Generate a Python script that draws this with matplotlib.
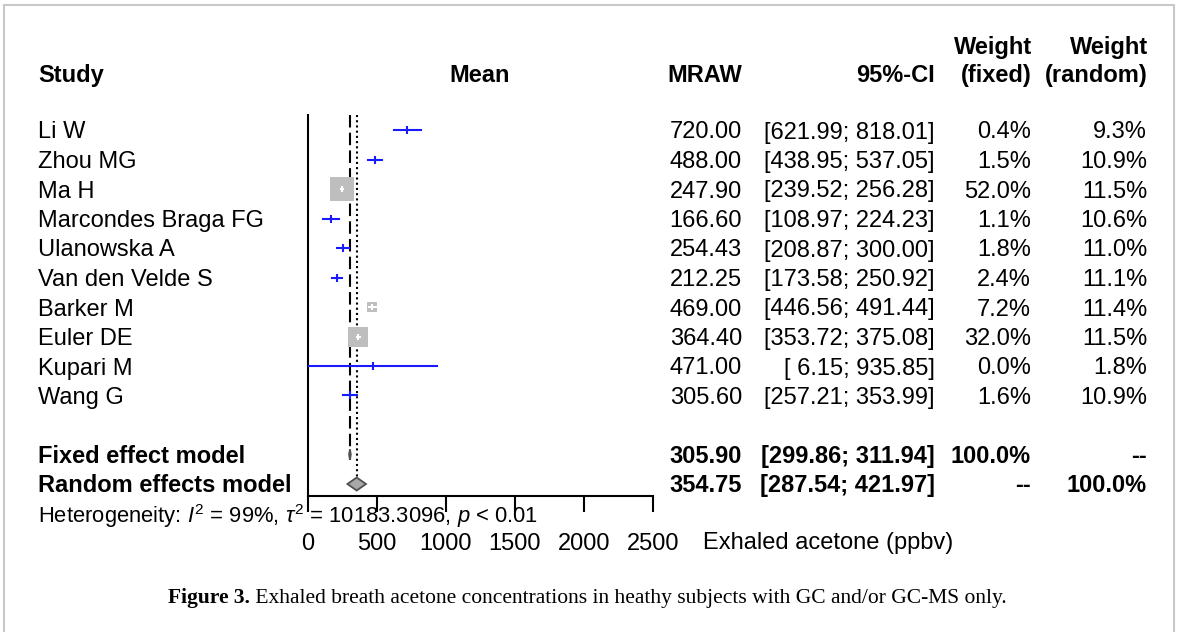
import matplotlib
matplotlib.use("Agg")
import matplotlib.pyplot as plt
from matplotlib.patches import Polygon, Rectangle
from matplotlib.transforms import blended_transform_factory

# 데이터
studies = ["Li W", "Zhou MG", "Ma H", "Marcondes Braga FG", "Ulanowska A",
           "Van den Velde S", "Barker M", "Euler DE", "Kupari M", "Wang G"]
mean = [720.00, 488.00, 247.90, 166.60, 254.43, 212.25, 469.00, 364.40, 471.00, 305.60]
lower = [621.99, 438.95, 239.52, 108.97, 208.87, 173.58, 446.56, 353.72, 6.15, 257.21]
upper = [818.01, 537.05, 256.28, 224.23, 300.00, 250.92, 491.44, 375.08, 935.85, 353.99]
w_fixed = [0.4, 1.5, 52.0, 1.1, 1.8, 2.4, 7.2, 32.0, 0.0, 1.6]
w_random = [9.3, 10.9, 11.5, 10.6, 11.0, 11.1, 11.4, 11.5, 1.8, 10.9]

fixed_est = [305.90, 299.86, 311.94]
random_est = [354.75, 287.54, 421.97]
xticks = [0, 500, 1000, 1500, 2000, 2500]

W, H = 1178, 632
plt.rcParams['font.family'] = ['Liberation Sans', 'DejaVu Sans']
plt.rcParams['mathtext.fontset'] = 'custom'
plt.rcParams['mathtext.rm'] = 'Liberation Sans'
plt.rcParams['mathtext.it'] = 'Liberation Sans:italic'

fig = plt.figure(figsize=(W / 100, H / 100), dpi=100)

# 플롯 영역 (픽셀 기준)
x0, x1 = 307.7, 653.0
ytop, ybot = 115, 496
row0, rowstep = 130, 29.5
ax = fig.add_axes([x0 / W, 1 - ybot / H, (x1 - x0) / W, (ybot - ytop) / H])
ax.set_xlim(0, 2500)
ax.set_ylim((ybot - row0) / rowstep, (ytop - row0) / rowstep)
for s in ['top', 'right']:
    ax.spines[s].set_visible(False)
ax.spines['left'].set_linewidth(1.5)
ax.spines['bottom'].set_linewidth(1.5)
ax.set_yticks([])
ax.set_xticks(xticks)
ax.tick_params(axis='x', direction='out', length=11.5, width=1.5, labelsize=17, pad=15.5)
ax.patch.set_visible(False)

fsize = 17
blue = '#1a1aff'
grey = '#bebebe'

# 고정/랜덤 효과 기준선
ax.plot([fixed_est[0]] * 2, [-0.52, 11.2], color='black', lw=1.5, ls=(0, (6, 2.5)), clip_on=False)
ax.plot([random_est[0]] * 2, [-0.52, 11.75], color='black', lw=1.5, ls=(0, (1, 1.5)), clip_on=False)

# 개별 연구 (사각형 크기는 고정효과 가중치에 비례)
for i in range(len(studies)):
    side = 23 * (w_fixed[i] / 52.0) ** 0.4
    ci_px = (upper[i] - lower[i]) * (x1 - x0) / 2500
    col = 'white' if ci_px < side else blue
    if col == 'white':
        ax.plot(mean[i], i, marker='s', ms=side * 0.75, color=grey, mew=0, zorder=3)
    ax.plot([lower[i], upper[i]], [i, i], color=col, lw=1.5, zorder=4, clip_on=False)
    ax.plot(mean[i], i, marker='|', ms=6 if col == blue else 4, mew=1.5, color=col, zorder=4)

# 다이아몬드
def diamond(est, row, h):
    m, lo, hi = est
    pts = [(lo, row), (m, row - h), (hi, row), (m, row + h)]
    ax.add_patch(Polygon(pts, closed=True, facecolor='#a8a8a8', edgecolor='#505050',
                         lw=1.3, zorder=5, clip_on=False))

diamond(fixed_est, 11, 5 / rowstep)
diamond(random_est, 12, 6.5 / rowstep)

# 텍스트 열
tr = blended_transform_factory(fig.transFigure, ax.transData)
def px(x):
    return x / W
base = 8.5 / rowstep

fig.text(px(38), 1 - 82 / H, "Study", fontsize=fsize, weight='bold', va='baseline')
fig.text(px(480), 1 - 82 / H, "Mean", fontsize=fsize, weight='bold', va='baseline', ha='center')
fig.text(px(742), 1 - 82 / H, "MRAW", fontsize=fsize, weight='bold', va='baseline', ha='right')
fig.text(px(935), 1 - 82 / H, "95%-CI", fontsize=fsize, weight='bold', va='baseline', ha='right')
fig.text(px(1032), 1 - 54 / H, "Weight", fontsize=fsize, weight='bold', va='baseline', ha='right')
fig.text(px(1032), 1 - 82 / H, "(fixed)", fontsize=fsize, weight='bold', va='baseline', ha='right')
fig.text(px(1148), 1 - 54 / H, "Weight", fontsize=fsize, weight='bold', va='baseline', ha='right')
fig.text(px(1148), 1 - 82 / H, "(random)", fontsize=fsize, weight='bold', va='baseline', ha='right')

for i in range(len(studies)):
    y = i + base
    fig.text(px(38), y, studies[i], transform=tr, fontsize=fsize, va='baseline')
    fig.text(px(742), y, f"{mean[i]:.2f}", transform=tr, fontsize=fsize, va='baseline', ha='right')
    lo = f"{lower[i]:.2f}" if lower[i] >= 100 else f" {lower[i]:.2f}"
    fig.text(px(935), y, f"[{lo}; {upper[i]:.2f}]", transform=tr, fontsize=fsize, va='baseline', ha='right')
    fig.text(px(1031), y, f"{w_fixed[i]:.1f}%", transform=tr, fontsize=fsize, va='baseline', ha='right')
    fig.text(px(1147), y, f"{w_random[i]:.1f}%", transform=tr, fontsize=fsize, va='baseline', ha='right')

summary = [("Fixed effect model", fixed_est, "100.0%", "--"),
           ("Random effects model", random_est, "--", "100.0%")]
for k, (name, est, wf, wr) in enumerate(summary):
    y = 11 + k + base
    fig.text(px(38), y, name, transform=tr, fontsize=fsize, weight='bold', va='baseline')
    fig.text(px(742), y, f"{est[0]:.2f}", transform=tr, fontsize=fsize, weight='bold', va='baseline', ha='right')
    fig.text(px(935), y, f"[{est[1]:.2f}; {est[2]:.2f}]", transform=tr, fontsize=fsize, weight='bold', va='baseline', ha='right')
    fig.text(px(1031), y, wf, transform=tr, fontsize=fsize, weight='bold', va='baseline', ha='right')
    fig.text(px(1147), y, wr, transform=tr, fontsize=fsize, weight='bold', va='baseline', ha='right')

fig.text(px(38), 1 - 523 / H,
         r"Heterogeneity: $I^2$ = 99%, $\tau^2$ = 10183.3096, $p$ < 0.01",
         fontsize=15.8, va='baseline')
fig.text(px(703), 1 - 549 / H, "Exhaled acetone (ppbv)", fontsize=fsize, va='baseline')

# 캡션
cap_y = 1 - 603 / H
t1 = fig.text(0, cap_y, "Figure 3.", family='Liberation Serif', weight='bold', fontsize=15.5, va='baseline')
t2 = fig.text(0, cap_y, " Exhaled breath acetone concentrations in heathy subjects with GC and/or GC-MS only.",
              family='Liberation Serif', fontsize=15.5, va='baseline')
fig.canvas.draw()
r = fig.canvas.get_renderer()
w1 = t1.get_window_extent(r).width
w2 = t2.get_window_extent(r).width
start = 587.5 - (w1 + w2) / 2
t1.set_x(start / W)
t2.set_x((start + w1) / W)

# 테두리
fig.patches.append(Rectangle((4 / W, -0.1), (W - 8) / W, 1.1 - 5 / H, transform=fig.transFigure,
                             fill=False, edgecolor='#c8c8c8', lw=1.5))

fig.savefig("out.png", dpi=100)
